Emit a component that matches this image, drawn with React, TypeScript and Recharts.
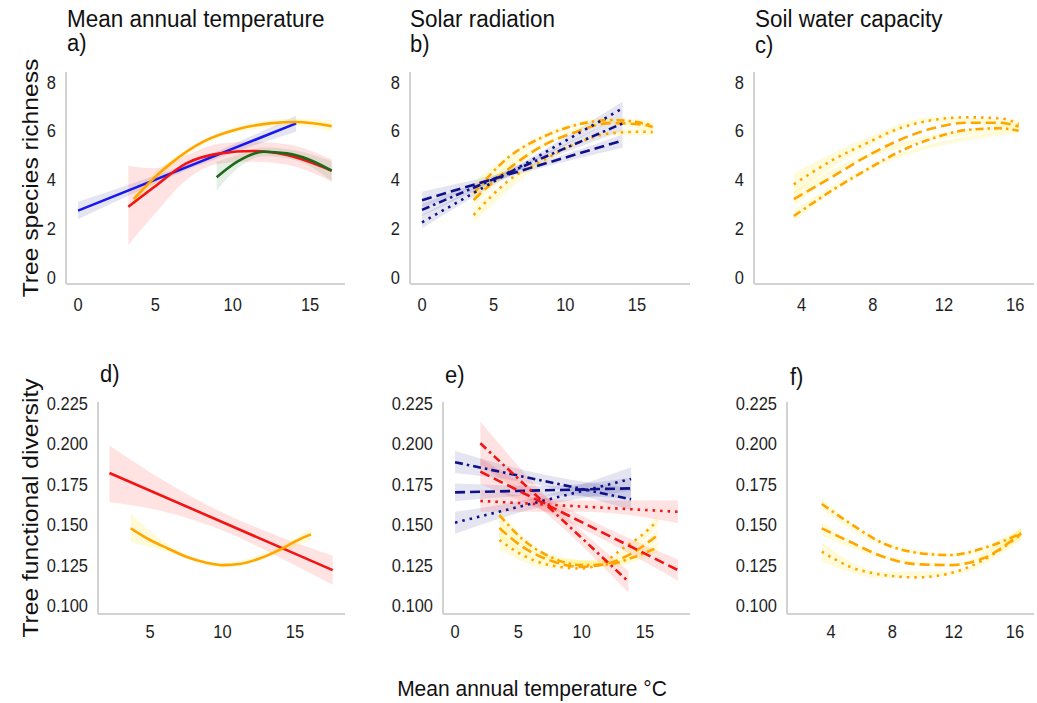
import React from 'react';
import { ComposedChart, Line, Area, XAxis, YAxis } from 'recharts';

type Pt = [number, number];
type Band = [number, number, number];

const FONT = '"Liberation Sans", Arial, sans-serif';

const RED = '#f01414';
const ORANGE = '#ffa500';
const NAVY = '#10108a';
const BLUE = '#1818ee';
const GREEN = '#1b6a1b';

const DASH = '10 5';
const DASH_DOT = '8 4 2.5 4';
const DOT = '2.5 5';

const richnessTicks = [0, 2, 4, 6, 8];
const diversityTicks = [0.1, 0.125, 0.15, 0.175, 0.2, 0.225];
const tempTicks = [0, 5, 10, 15];
const tempTicksD = [5, 10, 15];
const soilTicks = [4, 8, 12, 16];

const columnTitles = ['Mean annual temperature', 'Solar radiation', 'Soil water capacity'];
const panelLetters = ['a)', 'b)', 'c)', 'd)', 'e)', 'f)'];

// a) richness vs temperature
const aBlue: Pt[] = [[0, 2.72], [14.1, 6.3]];
const aBlueBand: Band[] = [[0, 2.37, 3.09], [3.5, 3.4, 3.83], [7, 4.38, 4.62], [10.5, 5.2, 5.58], [14.1, 5.96, 6.62]];
const aOrange: Pt[] = [[3.6, 3.19], [4.9, 4.05], [6, 4.66], [8.1, 5.55], [10.3, 6.06], [12.4, 6.3], [14.1, 6.36], [16.4, 6.19]];
const aOrangeBand: Band[] = [[3.6, 2.85, 3.5], [6, 4.5, 4.8], [10.3, 5.95, 6.17], [14.1, 6.2, 6.5], [16.4, 5.95, 6.42]];
const aRed: Pt[] = [[3.25, 2.88], [4.9, 3.68], [7, 4.66], [9.2, 5.07], [11.3, 5.17], [13.5, 5.0], [16.4, 4.36]];
const aRedBand: Band[] = [[3.25, 1.31, 4.55], [4.9, 2.54, 4.46], [7, 3.98, 5.0], [9.2, 4.66, 5.48], [11.3, 4.73, 5.55], [13.5, 4.6, 5.45], [16.4, 3.91, 4.83]];
const aGreen: Pt[] = [[8.96, 4.09], [10.3, 4.73], [12, 5.14], [13.5, 5.07], [15, 4.8], [16.4, 4.36]];
const aGreenBand: Band[] = [[8.96, 3.54, 4.73], [10.3, 4.45, 5.0], [12, 4.95, 5.32], [14, 4.8, 5.2], [16.4, 3.95, 4.75]];

// b) richness vs solar radiation
const bNavyDash: Pt[] = [[0, 3.15], [14, 5.6]];
const bNavyDashBand: Band[] = [[0, 2.85, 3.5], [7, 4.25, 4.5], [14, 5.3, 5.85]];
const bNavyDashDot: Pt[] = [[0, 2.75], [14, 6.3]];
const bNavyDashDotBand: Band[] = [[0, 2.5, 3.0], [7, 4.4, 4.65], [14, 6.0, 6.6]];
const bNavyDot: Pt[] = [[0, 2.24], [14, 6.92]];
const bNavyDotBand: Band[] = [[0, 2.0, 2.55], [7, 4.45, 4.7], [14, 6.6, 7.2]];
const bOrangeDashDot: Pt[] = [[3.6, 3.43], [6.1, 4.94], [8.5, 5.76], [10.8, 6.24], [13.1, 6.44], [15.4, 6.31], [16.1, 6.22]];
const bOrangeDashDotBand: Band[] = [[3.6, 3.15, 3.9], [8.5, 5.65, 5.88], [13.1, 6.36, 6.52], [16.1, 6.08, 6.4]];
const bOrangeDash: Pt[] = [[3.6, 3.16], [6.1, 4.46], [8.5, 5.41], [10.8, 5.96], [13.1, 6.31], [15.4, 6.25], [16.1, 6.15]];
const bOrangeDashBand: Band[] = [[3.6, 2.9, 3.45], [8.5, 5.3, 5.52], [13.1, 6.22, 6.4], [16.1, 6.0, 6.3]];
const bOrangeDot: Pt[] = [[3.6, 2.54], [6.1, 3.98], [8.5, 4.8], [10.8, 5.48], [13.1, 5.89], [15.4, 5.96], [16.1, 5.94]];
const bOrangeDotBand: Band[] = [[3.6, 2.25, 2.85], [8.5, 4.68, 4.92], [13.1, 5.8, 5.98], [16.1, 5.8, 6.1]];

// c) richness vs soil water capacity
const cDot: Pt[] = [[3.56, 3.8], [5.75, 4.8], [7.63, 5.48], [9.5, 6.1], [11.38, 6.44], [13.26, 6.55], [15.13, 6.51], [16.2, 6.28]];
const cDotBand: Band[] = [[3.56, 3.4, 4.25], [7.63, 5.3, 5.7], [11.38, 6.35, 6.55], [16.2, 6.1, 6.45]];
const cDash: Pt[] = [[3.56, 3.19], [5.75, 4.12], [7.63, 4.94], [9.5, 5.62], [11.38, 6.1], [13.26, 6.33], [15.13, 6.33], [16.2, 6.17]];
const cDashBand: Band[] = [[3.56, 2.9, 3.5], [7.63, 4.85, 5.05], [16.2, 6.05, 6.3]];
const cDashDot: Pt[] = [[3.56, 2.5], [5.75, 3.57], [7.63, 4.39], [9.5, 5.14], [11.38, 5.69], [13.26, 6.03], [15.13, 6.1], [16.2, 6.0]];
const cDashDotBand: Band[] = [[3.56, 2.3, 2.75], [7.63, 4.3, 4.5], [16.2, 5.9, 6.1]];

// d) functional diversity vs temperature
const dRed: Pt[] = [[2.2, 0.182], [17.6, 0.122]];
const dRedBand: Band[] = [[2.2, 0.164, 0.199], [6, 0.158, 0.177], [10, 0.1465, 0.1575], [14, 0.1295, 0.1425], [17.6, 0.113, 0.131]];
const dOrange: Pt[] = [[3.67, 0.1478], [5, 0.1406], [6.2, 0.1355], [7.5, 0.1303], [8.9, 0.1266], [10, 0.1251], [11.2, 0.1258], [12.6, 0.1293], [14, 0.1348], [15.3, 0.141], [16.1, 0.1441]];
const dOrangeBand: Band[] = [[3.67, 0.1395, 0.157], [6.2, 0.133, 0.138], [10, 0.1235, 0.1265], [14, 0.1325, 0.137], [16.1, 0.1405, 0.148]];

// e) functional diversity vs solar radiation
const eNavyDashDot: Pt[] = [[0, 0.1886], [13.9, 0.1657]];
const eNavyDashDotBand: Band[] = [[0, 0.182, 0.1955], [7, 0.174, 0.181], [13.9, 0.159, 0.1725]];
const eNavyDash: Pt[] = [[0, 0.17], [13.9, 0.1725]];
const eNavyDashBand: Band[] = [[0, 0.1645, 0.1755], [7, 0.168, 0.174], [13.9, 0.166, 0.179]];
const eNavyDot: Pt[] = [[0, 0.1513], [13.9, 0.1783]];
const eNavyDotBand: Band[] = [[0, 0.1445, 0.158], [7, 0.1615, 0.168], [13.9, 0.171, 0.1855]];
const eRedDashDot: Pt[] = [[2, 0.2003], [13.7, 0.1148]];
const eRedDashDotBand: Band[] = [[2, 0.187, 0.2137], [7.5, 0.155, 0.165], [13.7, 0.108, 0.1215]];
const eRedDash: Pt[] = [[2, 0.1828], [17.6, 0.122]];
const eRedDashBand: Band[] = [[2, 0.175, 0.191], [10, 0.1475, 0.1555], [17.6, 0.1155, 0.1285]];
const eRedDot: Pt[] = [[2, 0.1647], [17.6, 0.158]];
const eRedDotBand: Band[] = [[2, 0.158, 0.172], [10, 0.158, 0.165], [17.6, 0.151, 0.165]];
const eOrangeDashDot: Pt[] = [[3.5, 0.156], [5.4, 0.1406], [7.5, 0.1303], [9.9, 0.1251], [12, 0.1255], [14.1, 0.13], [16, 0.136]];
const eOrangeDashDotBand: Band[] = [[3.5, 0.151, 0.159], [7.5, 0.128, 0.132], [12, 0.1238, 0.1272], [16, 0.133, 0.139]];
const eOrangeDash: Pt[] = [[3.5, 0.148], [5.4, 0.136], [7.5, 0.128], [9.9, 0.124], [12, 0.126], [14.1, 0.133], [16, 0.1437]];
const eOrangeDashBand: Band[] = [[3.5, 0.142, 0.153], [7.5, 0.126, 0.13], [12, 0.1243, 0.1277], [16, 0.1405, 0.147]];
const eOrangeDot: Pt[] = [[3.5, 0.1406], [5.4, 0.131], [7.5, 0.125], [9.9, 0.123], [12, 0.128], [13, 0.134], [14.6, 0.1426], [16, 0.1525]];
const eOrangeDotBand: Band[] = [[3.5, 0.135, 0.146], [7.5, 0.123, 0.127], [12, 0.1263, 0.1297], [16, 0.149, 0.156]];

// f) functional diversity vs soil water capacity
const fDashDot: Pt[] = [[3.4, 0.1628], [5.24, 0.1509], [7.41, 0.1385], [9.59, 0.1327], [11.76, 0.1313], [13.93, 0.1355], [16.4, 0.1447]];
const fDashDotBand: Band[] = [[3.4, 0.1595, 0.166], [7.4, 0.137, 0.14], [11.8, 0.13, 0.1325], [16.4, 0.1415, 0.148]];
const fDash: Pt[] = [[3.4, 0.1478], [5.24, 0.1395], [7.41, 0.1303], [9.59, 0.1256], [11.76, 0.1251], [13.93, 0.1293], [16.4, 0.1447]];
const fDashBand: Band[] = [[3.4, 0.1435, 0.1515], [7.4, 0.129, 0.1315], [11.8, 0.124, 0.1262], [16.4, 0.1415, 0.148]];
const fDot: Pt[] = [[3.4, 0.1334], [5.24, 0.1241], [7.41, 0.119], [9.59, 0.1175], [11.76, 0.12], [13.93, 0.1282], [16.4, 0.1441]];
const fDotBand: Band[] = [[3.4, 0.1275, 0.139], [7.4, 0.117, 0.121], [11.8, 0.1187, 0.1213], [16.4, 0.1405, 0.148]];

interface LineDef { key: string; pts: Pt[]; color: string; dash?: string }
interface BandDef { key: string; pts: Band[]; fill: string; opacity: number }
interface PanelDef {
  box: { l: number; t: number; r: number; b: number };
  xDomain: [number, number];
  yDomain: [number, number];
  xTicks: number[];
  yTicks: number[];
  xTickMargin: number;
  yFormat?: (v: number) => string;
  lines: LineDef[];
  bands: BandDef[];
}

const redBand = (key: string, pts: Band[]): BandDef => ({ key, pts, fill: '#ff0000', opacity: 0.11 });
const navyBand = (key: string, pts: Band[]): BandDef => ({ key, pts, fill: '#000080', opacity: 0.1 });
const yellowBand = (key: string, pts: Band[]): BandDef => ({ key, pts, fill: '#ffe600', opacity: 0.15 });

const fmt3 = (v: number) => v.toFixed(3);

const panels: PanelDef[] = [
  {
    box: { l: 66, t: 72, r: 345, b: 284 }, xDomain: [-0.78, 17.26], yDomain: [-0.29, 8.41],
    xTicks: tempTicks, yTicks: richnessTicks, xTickMargin: 14,
    bands: [navyBand('blueBand', aBlueBand), yellowBand('orangeBand', aOrangeBand), redBand('redBand', aRedBand),
      { key: 'greenBand', pts: aGreenBand, fill: '#006400', opacity: 0.1 }],
    lines: [
      { key: 'blue', pts: aBlue, color: BLUE },
      { key: 'orange', pts: aOrange, color: ORANGE },
      { key: 'red', pts: aRed, color: RED },
      { key: 'green', pts: aGreen, color: GREEN },
    ],
  },
  {
    box: { l: 410, t: 72, r: 690, b: 284 }, xDomain: [-0.84, 18.7], yDomain: [-0.29, 8.41],
    xTicks: tempTicks, yTicks: richnessTicks, xTickMargin: 14,
    bands: [navyBand('nDashB', bNavyDashBand), navyBand('nDashDotB', bNavyDashDotBand), navyBand('nDotB', bNavyDotBand),
      yellowBand('oDashDotB', bOrangeDashDotBand), yellowBand('oDashB', bOrangeDashBand), yellowBand('oDotB', bOrangeDotBand)],
    lines: [
      { key: 'oDashDot', pts: bOrangeDashDot, color: ORANGE, dash: DASH_DOT },
      { key: 'oDash', pts: bOrangeDash, color: ORANGE, dash: DASH },
      { key: 'oDot', pts: bOrangeDot, color: ORANGE, dash: DOT },
      { key: 'nDash', pts: bNavyDash, color: NAVY, dash: DASH },
      { key: 'nDashDot', pts: bNavyDashDot, color: NAVY, dash: DASH_DOT },
      { key: 'nDot', pts: bNavyDot, color: NAVY, dash: DOT },
    ],
  },
  {
    box: { l: 754, t: 72, r: 1034, b: 284 }, xDomain: [1.32, 17.06], yDomain: [-0.29, 8.41],
    xTicks: soilTicks, yTicks: richnessTicks, xTickMargin: 14,
    bands: [yellowBand('dotB', cDotBand), yellowBand('dashB', cDashBand), yellowBand('dashDotB', cDashDotBand)],
    lines: [
      { key: 'dot', pts: cDot, color: ORANGE, dash: DOT },
      { key: 'dash', pts: cDash, color: ORANGE, dash: DASH },
      { key: 'dashDot', pts: cDashDot, color: ORANGE, dash: DASH_DOT },
    ],
  },
  {
    box: { l: 98, t: 402, r: 345, b: 614 }, xDomain: [1.41, 18.45], yDomain: [0.0949, 0.2258],
    xTicks: tempTicksD, yTicks: diversityTicks, xTickMargin: 11, yFormat: fmt3,
    bands: [redBand('redBand', dRedBand), yellowBand('orangeBand', dOrangeBand)],
    lines: [
      { key: 'red', pts: dRed, color: RED },
      { key: 'orange', pts: dOrange, color: ORANGE },
    ],
  },
  {
    box: { l: 443, t: 402, r: 690, b: 614 }, xDomain: [-0.95, 18.55], yDomain: [0.0949, 0.2258],
    xTicks: tempTicks, yTicks: diversityTicks, xTickMargin: 11, yFormat: fmt3,
    bands: [navyBand('nDashDotB', eNavyDashDotBand), navyBand('nDashB', eNavyDashBand), navyBand('nDotB', eNavyDotBand),
      redBand('rDashDotB', eRedDashDotBand), redBand('rDashB', eRedDashBand), redBand('rDotB', eRedDotBand),
      yellowBand('oDashDotB', eOrangeDashDotBand), yellowBand('oDashB', eOrangeDashBand), yellowBand('oDotB', eOrangeDotBand)],
    lines: [
      { key: 'oDashDot', pts: eOrangeDashDot, color: ORANGE, dash: DASH_DOT },
      { key: 'oDash', pts: eOrangeDash, color: ORANGE, dash: DASH },
      { key: 'oDot', pts: eOrangeDot, color: ORANGE, dash: DOT },
      { key: 'nDashDot', pts: eNavyDashDot, color: NAVY, dash: DASH_DOT },
      { key: 'nDash', pts: eNavyDash, color: NAVY, dash: DASH },
      { key: 'nDot', pts: eNavyDot, color: NAVY, dash: DOT },
      { key: 'rDashDot', pts: eRedDashDot, color: RED, dash: DASH_DOT },
      { key: 'rDash', pts: eRedDash, color: RED, dash: DASH },
      { key: 'rDot', pts: eRedDot, color: RED, dash: DOT },
    ],
  },
  {
    box: { l: 787, t: 402, r: 1034, b: 614 }, xDomain: [1.13, 17.24], yDomain: [0.0949, 0.2258],
    xTicks: soilTicks, yTicks: diversityTicks, xTickMargin: 11, yFormat: fmt3,
    bands: [yellowBand('dashDotB', fDashDotBand), yellowBand('dashB', fDashBand), yellowBand('dotB', fDotBand)],
    lines: [
      { key: 'dashDot', pts: fDashDot, color: ORANGE, dash: DASH_DOT },
      { key: 'dash', pts: fDash, color: ORANGE, dash: DASH },
      { key: 'dot', pts: fDot, color: ORANGE, dash: DOT },
    ],
  },
];

// merge the point lists of one panel into rows keyed by x
function buildRows(lines: LineDef[], bands: BandDef[]) {
  const byX = new Map<number, Record<string, any>>();
  const row = (x: number) => {
    if (!byX.has(x)) byX.set(x, { x });
    return byX.get(x)!;
  };
  lines.forEach(ln => ln.pts.forEach(([x, y]) => { row(x)[ln.key] = y; }));
  bands.forEach(bd => bd.pts.forEach(([x, lo, hi]) => { row(x)[bd.key] = [lo, hi]; }));
  return [...byX.values()].sort((a, b) => a.x - b.x);
}

const axisStyle = { stroke: '#d2d2d2', strokeWidth: 2 };
const STRETCH = 1.12; // the reference text is a little taller than it is wide

// tick text, stretched vertically like the reference
const makeTick = (vertical: boolean, fmt?: (v: number) => string) => (props: any) => {
  const { x, y, payload } = props;
  const label = fmt ? fmt(payload.value) : String(payload.value);
  return (
    <g transform={`translate(${x},${y}) scale(1,${STRETCH})`}>
      <text x={0} y={0} dy={vertical ? '0.355em' : '0.71em'} textAnchor={vertical ? 'end' : 'middle'}
        fontSize={16.5} fill="#1e1e1e" fontFamily={FONT}>{label}</text>
    </g>
  );
};

const Y_W = 60;
const X_H = 40;
const M_TOP = 12;
const M_RIGHT = 8;

const Panel: React.FC<{ p: PanelDef }> = ({ p }) => {
  const { l, t, r, b } = p.box;
  const rows = buildRows(p.lines, p.bands);
  return (
    <div style={{ position: 'absolute', left: l - Y_W, top: t - M_TOP }}>
      <ComposedChart
        width={r - l + Y_W + M_RIGHT}
        height={b - t + M_TOP + X_H}
        data={rows}
        margin={{ top: M_TOP, right: M_RIGHT, bottom: 0, left: 0 }}
      >
        <XAxis
          dataKey="x" type="number" domain={p.xDomain} ticks={p.xTicks} allowDataOverflow
          height={X_H} tickLine={false} tickSize={0} tickMargin={p.xTickMargin}
          axisLine={axisStyle} tick={makeTick(false)} interval={0}
        />
        <YAxis
          type="number" domain={p.yDomain} ticks={p.yTicks} allowDataOverflow
          width={Y_W} tickLine={false} tickSize={0} tickMargin={10}
          axisLine={axisStyle} tick={makeTick(true, p.yFormat)} interval={0}
        />
        {p.bands.map(bd => (
          <Area
            key={bd.key} dataKey={bd.key} type="monotone" stroke="none"
            fill={bd.fill} fillOpacity={bd.opacity} connectNulls
            dot={false} activeDot={false} isAnimationActive={false}
          />
        ))}
        {p.lines.map(ln => (
          <Line
            key={ln.key} dataKey={ln.key} type="monotone" stroke={ln.color}
            strokeWidth={2.6} strokeDasharray={ln.dash} connectNulls
            dot={false} activeDot={false} isAnimationActive={false}
          />
        ))}
      </ComposedChart>
    </div>
  );
};

const titleX = [67, 410, 755];
const letterPos: [number, number][] = [[67, 51], [410, 52], [755, 53], [100, 382], [445, 383], [790, 385]];

export default function App() {
  return (
    <div style={{ position: 'absolute', left: 0, top: 0, width: 1037, height: 703, background: '#fff', fontFamily: FONT }}>
      {panels.map((p, i) => <Panel key={i} p={p} />)}
      <svg width={1037} height={703} style={{ position: 'absolute', left: 0, top: 0, pointerEvents: 'none' }}
        fontFamily={FONT} fill="#111">
        {columnTitles.map((tt, i) => (
          <text key={tt} fontSize={22.5} transform={`translate(${titleX[i]},27) scale(1,1.05)`}>{tt}</text>
        ))}
        {panelLetters.map((lt, i) => (
          <text key={lt} fontSize={22} transform={`translate(${letterPos[i][0]},${letterPos[i][1]}) scale(1,1.05)`}>{lt}</text>
        ))}
        <text fontSize={22} textAnchor="middle" transform={`translate(38,178) rotate(-90) scale(${STRETCH},1)`}>Tree species richness</text>
        <text fontSize={22} textAnchor="middle" transform={`translate(38,508) rotate(-90) scale(${STRETCH},1)`}>Tree functional diversity</text>
        <text fontSize={21} textAnchor="middle" transform="translate(532,696) scale(1,1.08)">Mean annual temperature °C</text>
      </svg>
    </div>
  );
}
